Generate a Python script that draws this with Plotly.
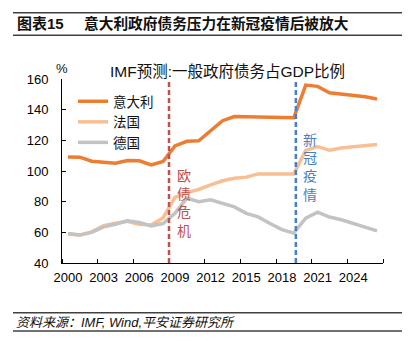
import plotly.graph_objects as go

# ---- data ----
years = list(range(2000, 2027))
italy = [109.2, 109.0, 106.4, 105.5, 105.1, 106.8, 106.7, 103.9, 106.2, 116.4, 119.4, 119.7,
         126.5, 132.8, 135.5, 135.4, 134.9, 134.8, 134.8, 134.8, 156.0, 155.2, 151.0, 150.2,
         149.5, 148.4, 147.0]
france = [58.9, 58.3, 60.3, 64.4, 65.9, 67.2, 65.3, 64.8, 69.4, 82.8, 85.8, 88.0,
          91.0, 93.6, 95.3, 96.0, 98.1, 98.1, 98.1, 98.1, 113.4, 116.0, 113.5, 115.0,
          115.8, 116.6, 117.3]
germany = [59.3, 58.2, 60.0, 63.6, 65.3, 67.5, 66.4, 64.2, 65.7, 72.4, 82.3, 80.0,
           81.2, 78.8, 76.6, 72.4, 70.1, 65.8, 61.8, 59.5, 69.3, 73.2, 70.0, 68.2,
           65.8, 63.4, 61.0]
series_names = ["意大利", "法国", "德国"]
tick_years = [2000, 2003, 2006, 2009, 2012, 2015, 2018, 2021, 2024]
euro_crisis_x = 2008.5
covid_x = 2019.17

FONT = "Liberation Sans, Arial, Noto Sans CJK SC, sans-serif"
colors = ["#ED7D31", "#F8BF93", "#C3C3C3"]

# plot area in pixels
L, R, T, B = 62, 383, 79, 263
W, H = 418, 343
def px(p):
    return (p - L) / (R - L)
def py(p):
    return (B - p) / (B - T)

fig = go.Figure()
for name, vals, c in zip(series_names, [italy, france, germany], colors):
    fig.add_trace(go.Scatter(x=years, y=vals, mode="lines", name=name,
                             line=dict(color=c, width=3.5), hoverinfo="skip"))

minor_vals = [y - 0.5 for y in tick_years] + [2026.5]

fig.update_layout(
    width=W, height=H,
    margin=dict(l=L, r=W - R, t=T, b=H - B),
    paper_bgcolor="white", plot_bgcolor="white",
    font=dict(family=FONT, size=13, color="#000000"),
    showlegend=True,
    legend=dict(x=px(73), y=py(86), xanchor="left", yanchor="top",
                font=dict(size=13.5, family=FONT, color="#111111"),
                bgcolor="rgba(0,0,0,0)", borderwidth=0, itemwidth=30,
                tracegroupgap=0),
    xaxis=dict(range=[1999.5, 2026.5], tickvals=tick_years,
               ticktext=[str(y) for y in tick_years],
               ticks="", showgrid=False, zeroline=False,
               showline=True, linecolor="#000000", linewidth=1,
               tickfont=dict(size=13, family=FONT), ticklabelstandoff=2,
               minor=dict(tickvals=minor_vals, ticks="inside", ticklen=4,
                          tickcolor="#000000", tickwidth=1, showgrid=False)),
    yaxis=dict(range=[40, 160], dtick=20, tick0=40,
               ticks="inside", ticklen=4, tickcolor="#000000",
               showgrid=False, zeroline=False,
               showline=True, linecolor="#000000", linewidth=1,
               tickfont=dict(size=13, family=FONT), ticklabelstandoff=10),
)

# vertical dashed event lines
fig.add_shape(type="line", xref="x", yref="y", x0=euro_crisis_x, x1=euro_crisis_x,
              y0=40, y1=158.5, line=dict(color="#C0504D", width=2.5, dash="5px,3px"))
fig.add_shape(type="line", xref="x", yref="y", x0=covid_x, x1=covid_x,
              y0=40, y1=158.5, line=dict(color="#4A7EC4", width=2.5, dash="5px,3px"))

def note(x, y, text, size, color, xanchor="center", bold=False, italic=False):
    t = text
    if bold:
        t = "<b>" + t + "</b>"
    if italic:
        t = "<i>" + t + "</i>"
    fig.add_annotation(x=x, y=y, xref="paper", yref="paper", text=t, showarrow=False,
                       xanchor=xanchor, yanchor="middle", borderpad=0,
                       font=dict(size=size, color=color, family=FONT))

# vertical annotation texts
note(px(184), py(203), "欧<br>债<br>危<br>机", 14, "#C0504D")
note(px(310), py(167.5), "新<br>冠<br>疫<br>情", 14, "#4A7EC4")

# chart inner title and unit
note(px(228), py(72), "IMF预测:一般政府债务占GDP比例", 15.5, "#111111")
note(px(61.5), py(68), "%", 13, "#111111")

# header
note(px(16), py(24), "图表15", 15, "#111111", xanchor="left", bold=True)
note(px(83), py(24), "意大利政府债务压力在新冠疫情后被放大", 14.7, "#111111",
     xanchor="left", bold=True)
for yy in [12.7, 35.2, 312.7, 331]:
    fig.add_shape(type="line", xref="paper", yref="paper", x0=px(13), x1=px(402),
                  y0=py(yy), y1=py(yy), line=dict(color="#404040", width=1.6))

# source
note(px(15), py(322), "资料来源：IMF, Wind,平安证券研究所", 13, "#111111",
     xanchor="left", italic=True)

fig.write_html("out.html")
